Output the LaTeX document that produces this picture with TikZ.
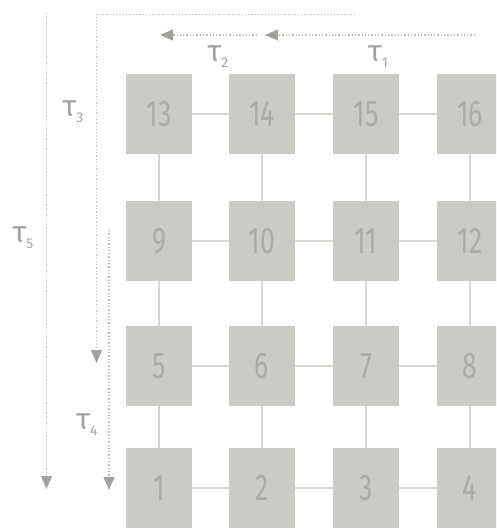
\documentclass[tikz,border=0pt]{standalone}
\usepackage{fontspec}
\usetikzlibrary{arrows.meta}
\newfontfamily\numfont[FakeStretch=0.72]{Fira Sans}
\newfontfamily\taufont{Fira Sans}
\definecolor{boxfill}{HTML}{CCCAC5}
\definecolor{numcol}{HTML}{ADABA5}
\definecolor{linkcol}{HTML}{D9D7D2}
\definecolor{dotcol}{HTML}{BDBBB5}
\definecolor{headcol}{HTML}{A3A19B}
\tikzset{
  cell/.style={fill=boxfill, minimum width=66pt, minimum height=80pt, inner sep=0pt,
    text=numcol, font=\numfont\fontsize{37}{40}\selectfont},
  link/.style={draw=linkcol, line width=1.8pt},
  dotarrow/.style={draw=dotcol, line width=1.3pt, dotted,
    -{Triangle[length=13pt,width=11pt,fill=headcol,color=headcol]}},
  taulabel/.style={text=headcol, font=\taufont\fontsize{30}{32}\selectfont, inner sep=0pt}
}
\newcommand{\tausub}[1]{τ\raisebox{-6pt}{\fontsize{14}{14}\selectfont #1}}
\begin{document}
\begin{tikzpicture}[x=1pt,y=-1pt]
\useasboundingbox (0,0) rectangle (496,529);
\clip (0,0) rectangle (496,529);
% boxes
\node[cell] (n13) at (159,114) {13};
\node[cell] (n14) at (262,114) {14};
\node[cell] (n15) at (366,114) {15};
\node[cell] (n16) at (470,114) {16};
\node[cell] (n9) at (159,241) {9};
\node[cell] (n10) at (262,241) {10};
\node[cell] (n11) at (366,241) {11};
\node[cell] (n12) at (470,241) {12};
\node[cell] (n5) at (159,366) {5};
\node[cell] (n6) at (262,366) {6};
\node[cell] (n7) at (366,366) {7};
\node[cell] (n8) at (470,366) {8};
\node[cell] (n1) at (159,488) {1};
\node[cell] (n2) at (262,488) {2};
\node[cell] (n3) at (366,488) {3};
\node[cell] (n4) at (470,488) {4};
% links
\foreach \a/\b in {13/14,14/15,15/16,9/10,10/11,11/12,5/6,6/7,7/8,1/2,2/3,3/4}{
  \draw[link] (n\a.east) -- (n\b.west);
}
\foreach \a/\b in {13/9,14/10,15/11,16/12,9/5,10/6,11/7,12/8,5/1,6/2,7/3,8/4}{
  \draw[link] (n\a.south) -- (n\b.north);
}
% dotted arrows
\coordinate (t3s) at (355,14.5);
\coordinate (t3c) at (96.5,14.5);
\coordinate (t3e) at (96.5,363);
\draw[dotarrow] (t3s) -- (t3c) -- (t3e);
\coordinate (t5s) at (46.5,13);
\coordinate (t5e) at (46.5,489);
\draw[dotarrow] (t5s) -- (t5e);
\coordinate (t4s) at (109,230);
\coordinate (t4e) at (109,490);
\draw[dotarrow] (t4s) -- (t4e);
\coordinate (t1s) at (475,35);
\coordinate (t1e) at (265,35);
\draw[dotarrow] (t1s) -- (t1e);
\coordinate (t2s) at (257,35);
\coordinate (t2e) at (160,35);
\draw[dotarrow] (t2s) -- (t2e);
% labels
\node[taulabel] (l1) at (378,57) {\tausub{1}};
\node[taulabel] (l2) at (218,57) {\tausub{2}};
\node[taulabel] (l3) at (73,112) {\tausub{3}};
\node[taulabel] (l5) at (23,238) {\tausub{5}};
\node[taulabel] (l4) at (87,425) {\tausub{4}};
\end{tikzpicture}
\end{document}
